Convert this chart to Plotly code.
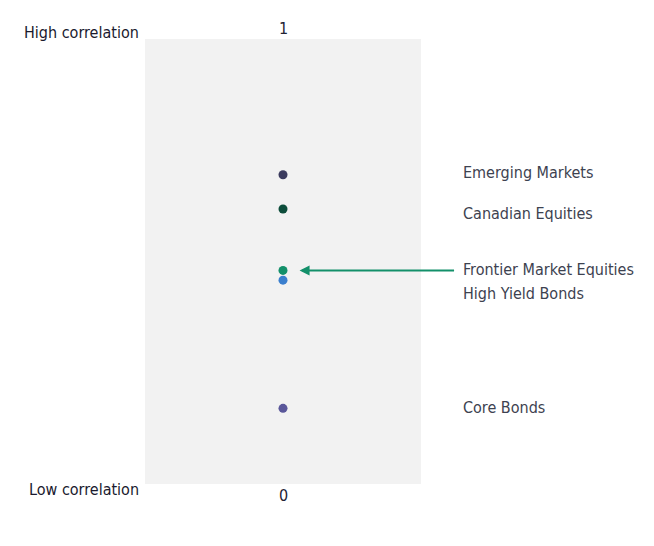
import plotly.graph_objects as go

assets = ["Emerging Markets", "Canadian Equities", "Frontier Market Equities", "High Yield Bonds", "Core Bonds"]
correlations = [0.695, 0.618, 0.48, 0.458, 0.17]
label_y = [0.699, 0.609, 0.483, 0.428, 0.172]
colors = ["#3b3b5e", "#0d4d3b", "#13906a", "#3a7fce", "#5a579a"]
tick_vals = [1, 0]
tick_text = ["1", "0"]
end_labels = ["High correlation", "Low correlation"]

FONT = "DejaVu Sans Condensed, Noto Sans, sans-serif"

fig = go.Figure()
fig.add_trace(go.Scatter(
    x=[0] * len(assets), y=correlations, mode="markers",
    marker=dict(color=colors, size=9),
    hoverinfo="text", text=assets, showlegend=False,
))

ann = []
for name, ly in zip(assets, label_y):
    ann.append(dict(x=1, xref="paper", xshift=40, y=ly, yref="y", text=name,
                    showarrow=False, xanchor="left", yanchor="middle",
                    font=dict(family=FONT, size=16, color="#3d4250")))
for tv, tt in zip(tick_vals, tick_text):
    ann.append(dict(x=0, y=tv, xref="x", yref="y", text=tt, showarrow=False,
                    yanchor="bottom" if tv == 1 else "top",
                    yshift=-1 if tv == 1 else 0,
                    font=dict(family=FONT, size=16, color="#222233")))
for lab, tv in zip(end_labels, tick_vals):
    ann.append(dict(x=0, xref="paper", xshift=-4, y=tv, yref="y", text=lab,
                    showarrow=False, xanchor="right", yanchor="middle",
                    yshift=7 if tv == 1 else -5,
                    font=dict(family=FONT, size=16, color="#1a1a2e")))
# arrow pointing at Frontier Market Equities
ann.append(dict(x=0.12, y=correlations[2], xref="x", yref="y", text="",
                showarrow=True, arrowhead=2, arrowsize=1, arrowwidth=2,
                arrowcolor="#13906a", ax=156, ay=0, axref="pixel", ayref="pixel"))

fig.update_layout(
    width=654, height=546,
    margin=dict(l=137, r=241, t=31, b=70),
    plot_bgcolor="#f2f2f2", paper_bgcolor="white",
    xaxis=dict(range=[-1, 1], visible=False, fixedrange=True),
    yaxis=dict(range=[0, 1], visible=False, fixedrange=True),
    annotations=ann,
)
fig.write_html("out.html")
